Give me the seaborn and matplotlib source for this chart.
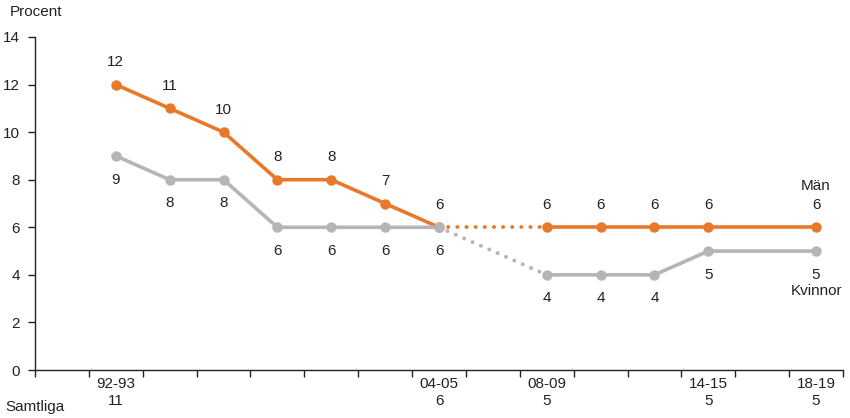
import numpy as np
import pandas as pd
import matplotlib
matplotlib.use("Agg")
import matplotlib.pyplot as plt
import seaborn as sns

# Survey periods and shares (percent)
periods = ["92-93", "94-95", "96-97", "98-99", "00-01", "02-03", "04-05",
           "08-09", "10-11", "12-13", "14-15", "18-19"]
men = [12, 11, 10, 8, 8, 7, 6, 6, 6, 6, 6, 6]
women = [9, 8, 8, 6, 6, 6, 6, 4, 4, 4, 5, 5]

# Tick labels on the x axis with the total for all respondents
labelled_periods = ["92-93", "04-05", "08-09", "14-15", "18-19"]
total = [11, 6, 5, 5, 5]

ORANGE = "#E8792B"
GRAY = "#B5B5B9"
TEXT = "#222222"
FS = 11

sns.set_theme(style="white")
plt.rcParams["font.family"] = ["Liberation Sans", "DejaVu Sans"]

# Position on a two-year grid starting at 90-91
pos = [(int(p[:2]) - 90) % 100 // 2 for p in periods]
df = pd.DataFrame({"period": periods, "pos": pos, "Män": men, "Kvinnor": women})

fig = plt.figure(figsize=(8.5, 4.18), dpi=100)
ax = fig.add_axes([35 / 850, 1 - 370 / 418, (843 - 35) / 850, (370 - 37) / 418])

first = df.iloc[:7]
second = df.iloc[7:]
bridge = df.iloc[6:8]

for col, color in [("Män", ORANGE), ("Kvinnor", GRAY)]:
    for part in (first, second):
        sns.lineplot(data=part, x="pos", y=col, ax=ax, color=color, lw=2.6,
                     marker="o", markersize=7.5, markeredgewidth=0,
                     sort=False, zorder=3)
    sns.lineplot(data=bridge, x="pos", y=col, ax=ax, color=color, lw=2.8,
                 linestyle=(0, (0.05, 2.3)), dash_capstyle="round",
                 sort=False, zorder=2)

# Value labels: men above, women below
for x, m, w in zip(df["pos"], df["Män"], df["Kvinnor"]):
    ax.annotate(f"{m}", (x, m), xytext=(0, 16), textcoords="offset points",
                ha="center", va="center", fontsize=FS, color=TEXT)
    ax.annotate(f"{w}", (x, w), xytext=(0, -17), textcoords="offset points",
                ha="center", va="center", fontsize=FS, color=TEXT)

last = df.iloc[-1]
ax.annotate("Män", (last["pos"], last["Män"]), xytext=(0, 30),
            textcoords="offset points", ha="center", va="center",
            fontsize=FS, color=TEXT)
ax.annotate("Kvinnor", (last["pos"], last["Kvinnor"]), xytext=(0, -29),
            textcoords="offset points", ha="center", va="center",
            fontsize=FS, color=TEXT)

ax.set_xlim(-0.5, 14.5)
ax.set_ylim(0, 14)
ax.set_yticks(np.arange(0, 15, 2))
label_pos = [pos[periods.index(p)] for p in labelled_periods]
ax.set_xticks(label_pos)
ax.set_xticklabels([f"{p}\n{t}" for p, t in zip(labelled_periods, total)],
                   fontsize=FS, color=TEXT, linespacing=1.3)
ax.set_xticks(np.arange(-0.5, 15, 1), minor=True)
ax.tick_params(axis="x", which="major", length=0, pad=5)
ax.tick_params(axis="x", which="minor", length=5, width=1, color=TEXT,
               direction="out", bottom=True)
ax.tick_params(axis="y", length=5, width=1, color=TEXT, direction="out",
               left=True, labelsize=FS, labelcolor=TEXT, pad=6)
ax.set_xlabel("")
ax.set_ylabel("")

for side in ("top", "right"):
    ax.spines[side].set_visible(False)
for side in ("left", "bottom"):
    ax.spines[side].set_color(TEXT)
    ax.spines[side].set_linewidth(1)

fig.text(10 / 850, 1 - 12 / 418, "Procent", fontsize=FS, color=TEXT,
         ha="left", va="center")
fig.text(5 / 850, 1 - 407 / 418, "Samtliga", fontsize=FS, color=TEXT,
         ha="left", va="center")

fig.savefig("out.png", dpi=100)
